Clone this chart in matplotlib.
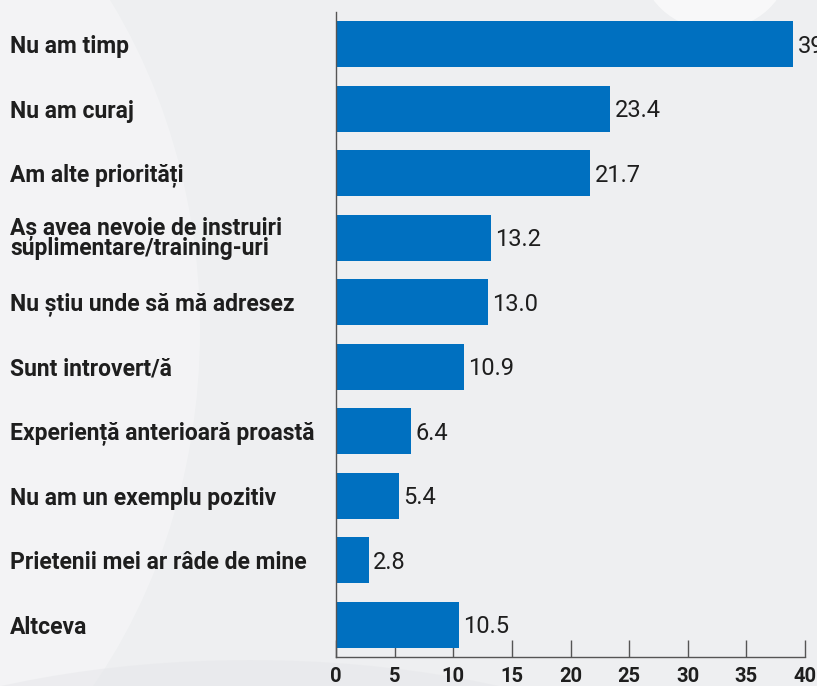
import matplotlib.pyplot as plt
from matplotlib.patches import Ellipse

categories = [
    'Nu am timp',
    'Nu am curaj',
    'Am alte priorități',
    'Aș avea nevoie de instruiri\nsuplimentare/training-uri',
    'Nu știu unde să mă adresez',
    'Sunt introvert/ă',
    'Experiență anterioară proastă',
    'Nu am un exemplu pozitiv',
    'Prietenii mei ar râde de mine',
    'Altceva',
]
values = [39.0, 23.4, 21.7, 13.2, 13.0, 10.9, 6.4, 5.4, 2.8, 10.5]
xticks = [0, 5, 10, 15, 20, 25, 30, 35, 40]

bar_color = '#0070c0'
text_color = '#1e1e1e'

plt.rcParams['font.family'] = ['Roboto', 'DejaVu Sans']

fig = plt.figure(figsize=(8.17, 6.86), dpi=100)
fig.patch.set_facecolor('#eeeff1')

# soft background shapes
bg = fig.add_axes([0, 0, 1, 1], zorder=-1)
bg.set_xlim(0, 817)
bg.set_ylim(686, 0)
bg.axis('off')
bg.add_patch(Ellipse((-250, 330), 900, 1100, color='white', alpha=0.3, lw=0))
bg.add_patch(Ellipse((715, -40), 150, 140, color='white', alpha=0.6, lw=0))
bg.add_patch(Ellipse((250, 900), 1100, 480, color='#e6e7ea', alpha=0.5, lw=0))

ax = fig.add_axes([336 / 817, 29 / 686, 469 / 817, 645 / 686])
ax.set_facecolor('none')
ax.set_axisbelow(True)

ypos = list(range(len(categories)))
ax.barh(ypos, values, height=0.72, color=bar_color, zorder=2)

for y, v in zip(ypos, values):
    ax.text(v + 0.35, y + 0.03, f'{v:.1f}', va='center', ha='left',
            fontsize=17, color=text_color, clip_on=False)

ax.set_xlim(0, 40)
ax.set_ylim(9.5, -0.5)
ax.set_yticks(ypos)
ax.set_yticklabels(categories, fontsize=16.5, fontweight='bold',
                   color=text_color, ha='left', linespacing=0.78)
ax.tick_params(axis='y', length=0, pad=(336 - 10) * 0.72)
ax.set_xticks(xticks)
ax.set_xticklabels([str(t) for t in xticks], fontsize=14.5,
                   fontweight='bold', color=text_color)
ax.tick_params(axis='x', direction='in', length=12, width=1,
               color='#555555', pad=7)

for side in ['top', 'right']:
    ax.spines[side].set_visible(False)
for side in ['left', 'bottom']:
    ax.spines[side].set_color('#555555')
    ax.spines[side].set_linewidth(1)

fig.savefig('out.png', dpi=100, facecolor=fig.get_facecolor())
